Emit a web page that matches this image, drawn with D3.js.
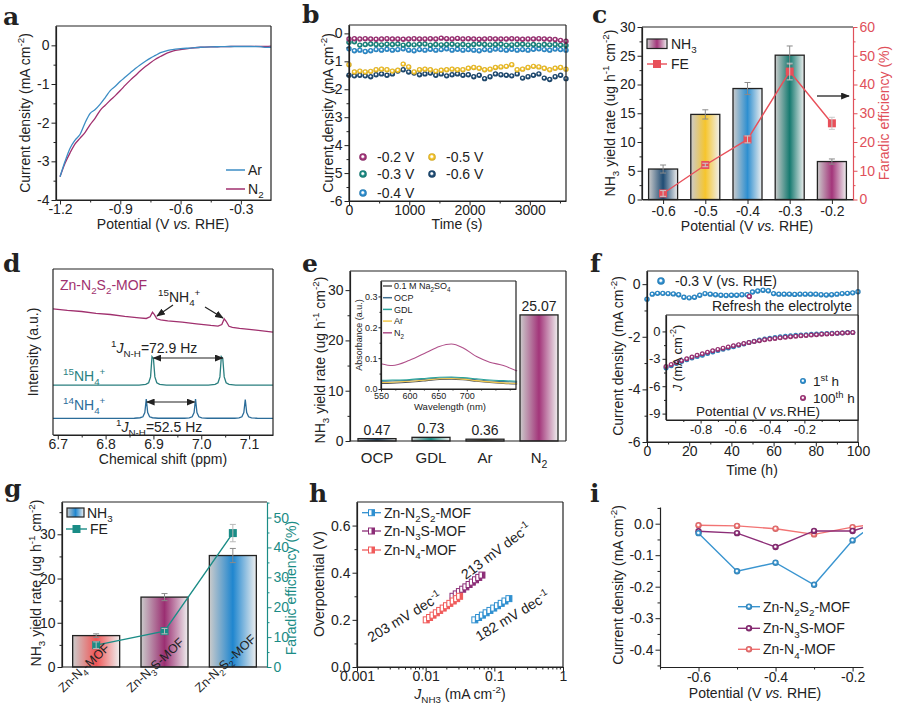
<!DOCTYPE html>
<html>
<head>
<meta charset="utf-8">
<script src="https://cdn.jsdelivr.net/npm/d3@7"></script>
<style>
  body { margin: 0; background: #fff; }
  svg text { font-family: "Liberation Sans", Arial, sans-serif; }
</style>
</head>
<body>
<svg id="fig" width="900" height="710"></svg>
<script>
// ---------------- DATA ----------------

// (a) LSV in Ar / N2
const aPotential = [-1.2,-1.175,-1.15,-1.125,-1.1,-1.075,-1.05,-1.025,-1.0,-0.975,-0.95,-0.925,-0.9,-0.875,-0.85,-0.825,-0.8,-0.775,-0.75,-0.725,-0.7,-0.675,-0.65,-0.625,-0.6,-0.55,-0.5,-0.45,-0.4,-0.35,-0.3,-0.25,-0.2,-0.175,-0.15];
const aAr = [-3.4,-3.0,-2.66,-2.45,-2.3,-2.0,-1.76,-1.66,-1.52,-1.35,-1.17,-1.06,-0.93,-0.82,-0.71,-0.6,-0.5,-0.41,-0.33,-0.26,-0.19,-0.15,-0.12,-0.1,-0.085,-0.07,-0.05,-0.04,-0.035,-0.03,-0.03,-0.03,-0.035,-0.055,-0.05];
const aN2 = [-3.4,-3.05,-2.78,-2.55,-2.4,-2.25,-2.05,-1.88,-1.68,-1.55,-1.42,-1.3,-1.17,-1.03,-0.9,-0.78,-0.66,-0.55,-0.45,-0.36,-0.29,-0.22,-0.17,-0.13,-0.11,-0.07,-0.05,-0.04,-0.035,-0.03,-0.025,-0.025,-0.03,-0.03,-0.02];

// (b) i-t curves
const bTime = [0,90,180,270,360,450,540,630,720,810,900,990,1080,1170,1260,1350,1440,1530,1620,1710,1800,1890,1980,2070,2160,2250,2340,2430,2520,2610,2700,2790,2880,2970,3060,3150,3240,3330,3420,3510,3600];
const b02 = [-0.2,-0.19,-0.2,-0.19,-0.2,-0.21,-0.2,-0.19,-0.2,-0.2,-0.21,-0.2,-0.19,-0.2,-0.2,-0.19,-0.2,-0.17,-0.19,-0.2,-0.18,-0.2,-0.19,-0.2,-0.21,-0.2,-0.19,-0.2,-0.2,-0.2,-0.19,-0.2,-0.21,-0.2,-0.2,-0.19,-0.2,-0.21,-0.22,-0.25,-0.28];
const b03 = [-0.32,-0.3,-0.42,-0.4,-0.38,-0.4,-0.41,-0.39,-0.4,-0.38,-0.42,-0.4,-0.41,-0.39,-0.38,-0.42,-0.4,-0.41,-0.4,-0.39,-0.41,-0.4,-0.42,-0.4,-0.38,-0.4,-0.41,-0.4,-0.39,-0.42,-0.41,-0.4,-0.39,-0.41,-0.4,-0.42,-0.4,-0.41,-0.4,-0.42,-0.43];
const b04 = [-0.55,-0.62,-0.6,-0.65,-0.62,-0.58,-0.6,-0.57,-0.6,-0.58,-0.55,-0.6,-0.62,-0.58,-0.6,-0.57,-0.6,-0.58,-0.55,-0.6,-0.57,-0.6,-0.58,-0.6,-0.62,-0.58,-0.6,-0.56,-0.58,-0.6,-0.57,-0.6,-0.58,-0.6,-0.57,-0.55,-0.58,-0.6,-0.56,-0.58,-0.6];
const b05 = [-1.12,-1.38,-1.35,-1.38,-1.36,-1.3,-1.28,-1.3,-1.35,-1.32,-1.1,-1.2,-1.38,-1.3,-1.28,-1.3,-1.35,-1.32,-1.3,-1.28,-1.3,-1.3,-1.25,-1.22,-1.25,-1.3,-1.28,-1.22,-1.2,-1.18,-1.12,-1.3,-1.28,-1.22,-1.18,-1.2,-1.25,-1.3,-1.25,-1.22,-1.28];
const b06 = [-1.5,-1.52,-1.5,-1.52,-1.55,-1.48,-1.45,-1.5,-1.45,-1.35,-1.3,-1.38,-1.42,-1.48,-1.45,-1.42,-1.5,-1.45,-1.52,-1.48,-1.45,-1.5,-1.48,-1.55,-1.5,-1.62,-1.55,-1.45,-1.48,-1.5,-1.52,-1.45,-1.6,-1.55,-1.5,-1.45,-1.6,-1.65,-1.55,-1.5,-1.62];
const bLabels = ['-0.2 V','-0.3 V','-0.4 V','-0.5 V','-0.6 V'];

// (c) yield and FE vs potential
const cPotential = ['-0.6','-0.5','-0.4','-0.3','-0.2'];
const cYield = [5.3,14.8,19.3,25.1,6.6];
const cYieldErr = [0.7,0.8,1.05,1.6,0.45];
const cFE = [2.1,12.0,20.9,44.5,26.5];
const cFEErr = [1.0,0.6,1.2,2.9,2.1];

// (d) 1H NMR
const dMofShift = [6.69,6.72,6.75,6.78,6.81,6.84,6.87,6.885,6.893,6.898,6.902,6.907,6.915,6.93,6.96,6.99,7.02,7.035,7.043,7.048,7.052,7.058,7.065,7.08,7.11,7.15];
const dMofInt = [7.6,7.51,7.44,7.33,7.26,7.15,7.06,7.02,7.12,7.4,7.25,7.0,6.93,6.88,6.8,6.7,6.6,6.56,6.65,7.0,6.85,6.55,6.48,6.42,6.33,6.2];
const d15Shift = [6.69,6.87,6.884,6.89,6.894,6.897,6.9,6.903,6.907,6.913,6.927,7.015,7.029,7.035,7.039,7.042,7.045,7.048,7.052,7.058,7.072,7.15];
const d15Int = [3.0,3.01,3.05,3.15,3.5,4.72,4.6,3.5,3.15,3.05,3.01,3.01,3.05,3.15,3.5,4.72,4.6,3.5,3.15,3.05,3.01,3.0];
const d14Shift = [6.69,6.86,6.872,6.878,6.882,6.885,6.888,6.892,6.898,6.91,6.965,6.975,6.981,6.985,6.988,6.991,6.995,7.001,7.013,7.07,7.079,7.085,7.089,7.092,7.095,7.099,7.105,7.117,7.15];
const d14Int = [1.0,1.01,1.04,1.1,1.35,2.17,1.35,1.1,1.04,1.01,1.01,1.03,1.1,1.35,2.17,1.35,1.1,1.03,1.01,1.01,1.03,1.1,1.35,2.14,1.35,1.1,1.03,1.01,1.0];

// (e) control experiments + UV-vis inset
const eCats = ['OCP','GDL','Ar','N_{2}'];
const eYield = [0.47,0.73,0.36,25.07];
const eWave = [550,570,600,630,652,673,693,717,740,764,788];
const eNa2SO4 = [0.018,0.019,0.022,0.027,0.031,0.032,0.03,0.025,0.021,0.018,0.016];
const eOCP = [0.025,0.026,0.028,0.032,0.035,0.036,0.034,0.03,0.026,0.024,0.022];
const eGDL = [0.028,0.029,0.031,0.035,0.038,0.039,0.037,0.033,0.029,0.027,0.025];
const eAr = [0.021,0.022,0.025,0.029,0.033,0.034,0.032,0.027,0.023,0.02,0.018];
const eN2 = [0.082,0.076,0.093,0.119,0.138,0.146,0.134,0.105,0.087,0.076,0.058];
const eInsetLabels = ['0.1 M Na_{2}SO_{4}','OCP','GDL','Ar','N_{2}'];

// (f) 100 h stability + LSV inset
const fTime = [0,2.5,5,7.5,10,12.5,15,17.5,20,22.5,25,27.5,30,32.5,35,37.5,40,42.5,45,47.5,50,52.5,55,57.5,60,62.5,65,67.5,70,72.5,75,77.5,80,82.5,85,87.5,90,92.5,95,97.5,100];
const fJ = [-0.57,-0.38,-0.35,-0.35,-0.36,-0.37,-0.4,-0.5,-0.52,-0.5,-0.42,-0.36,-0.38,-0.4,-0.42,-0.43,-0.42,-0.42,-0.4,-0.4,-0.3,-0.26,-0.23,-0.25,-0.36,-0.38,-0.38,-0.38,-0.39,-0.38,-0.38,-0.38,-0.38,-0.4,-0.41,-0.4,-0.38,-0.36,-0.35,-0.33,-0.29];
const fRefreshTime = [48.5];
const fRefreshJ = [-0.47];
const fInsetV = [-1.0,-0.97,-0.94,-0.91,-0.88,-0.85,-0.82,-0.79,-0.76,-0.73,-0.7,-0.67,-0.64,-0.61,-0.58,-0.55,-0.52,-0.49,-0.46,-0.43,-0.4,-0.37,-0.34,-0.31,-0.28,-0.25,-0.22,-0.19,-0.16,-0.13,-0.1,-0.07,-0.04,-0.01,0.02,0.05,0.08];
const fInset1st = [-4.0,-3.75,-3.5,-3.28,-3.1,-2.92,-2.75,-2.6,-2.42,-2.26,-2.1,-1.96,-1.82,-1.68,-1.52,-1.38,-1.22,-1.08,-0.95,-0.84,-0.74,-0.66,-0.58,-0.52,-0.47,-0.42,-0.38,-0.35,-0.32,-0.29,-0.26,-0.23,-0.21,-0.19,-0.16,-0.13,-0.11];
const fInset100th = [-3.85,-3.62,-3.4,-3.2,-3.0,-2.8,-2.62,-2.45,-2.28,-2.12,-1.97,-1.83,-1.7,-1.57,-1.45,-1.33,-1.22,-1.11,-1.01,-0.92,-0.84,-0.77,-0.7,-0.64,-0.58,-0.53,-0.48,-0.44,-0.4,-0.36,-0.3,-0.27,-0.24,-0.21,-0.18,-0.15,-0.12];

// (g) catalyst comparison
const gCats = ['Zn-N_{4}-MOF','Zn-N_{3}S-MOF','Zn-N_{2}S_{2}-MOF'];
const gYield = [7.1,15.8,25.2];
const gYieldErr = [0.4,0.8,1.6];
const gFE = [7.3,12.0,44.8];
const gFEErr = [1.1,0.9,2.9];

// (h) Tafel plots
const hN2S2J = [0.052,0.059,0.067,0.076,0.0863,0.098,0.111,0.126,0.143,0.163];
const hN2S2Eta = [0.2,0.21,0.22,0.23,0.24,0.25,0.26,0.27,0.28,0.29];
const hN3SJ = [0.025,0.0279,0.031,0.0346,0.0385,0.0429,0.0478,0.0532,0.0593,0.066];
const hN3SEta = [0.3,0.31,0.32,0.33,0.34,0.35,0.36,0.37,0.38,0.39];
const hN4J = [0.0102,0.0114,0.0128,0.0143,0.016,0.018,0.0201,0.0225,0.0252,0.0283,0.0312];
const hN4Eta = [0.2,0.21,0.22,0.23,0.24,0.25,0.26,0.27,0.28,0.29,0.3];
const hSlopes = ['182 mV dec^{-1}','213 mV dec^{-1}','203 mV dec^{-1}'];

// (i) partial current density
const iPotential = [-0.6,-0.5,-0.4,-0.3,-0.2,-0.15];
const iN2S2 = [-0.03,-0.151,-0.124,-0.194,-0.053,-0.008];
const iN3S = [-0.024,-0.03,-0.074,-0.023,-0.023,-0.004];
const iN4 = [-0.005,-0.007,-0.016,-0.034,-0.011,-0.003];
const mofNames = ['Zn-N_{2}S_{2}-MOF','Zn-N_{3}S-MOF','Zn-N_{4}-MOF'];

// ---------------- STYLE ----------------
const INK = '#222';
const FONT = '"Liberation Sans", Arial, sans-serif';
const MAG = '#a3357a', TEAL = '#1b8a82', BLUE = '#2e8fd0', YEL = '#f6c52c', NAVY = '#1f4c74';
const RED = '#e8505a', PINK = '#f27373', PURP = '#8c2d77';

const svg = d3.select('#fig');
const defs = svg.append('defs');

// arrow head
defs.append('marker').attr('id', 'arr').attr('viewBox', '0 0 10 8').attr('refX', 9).attr('refY', 4)
  .attr('markerWidth', 9).attr('markerHeight', 7).attr('markerUnits', 'userSpaceOnUse')
  .attr('orient', 'auto-start-reverse')
  .append('path').attr('d', 'M0,0 L10,4 L0,8 z').attr('fill', INK);

function barGrad(id, color) {
  const gr = defs.append('linearGradient').attr('id', id).attr('x1', 0).attr('x2', 1).attr('y1', 0).attr('y2', 0);
  gr.append('stop').attr('offset', '0%').attr('stop-color', '#cbcbcb');
  gr.append('stop').attr('offset', '50%').attr('stop-color', color);
  gr.append('stop').attr('offset', '100%').attr('stop-color', '#efefef');
  return `url(#${id})`;
}
function ballGrad(id, color) {
  const gr = defs.append('radialGradient').attr('id', id).attr('cx', 0.5).attr('cy', 0.5).attr('r', 0.5)
    .attr('fx', 0.45).attr('fy', 0.42);
  gr.append('stop').attr('offset', '0%').attr('stop-color', '#fff');
  gr.append('stop').attr('offset', '22%').attr('stop-color', '#fff');
  gr.append('stop').attr('offset', '55%').attr('stop-color', color);
  gr.append('stop').attr('offset', '100%').attr('stop-color', d3.color(color).darker(0.5));
  return `url(#${id})`;
}

// text with _{sub} ^{sup} ~{italic}
function rich(t, str, fs) {
  const parts = str.split(/(_\{[^}]*\}|\^\{[^}]*\}|~\{[^}]*\})/).filter(p => p);
  let shift = 0;
  parts.forEach(p => {
    let kind = 'n', txt = p;
    if (p.startsWith('_{')) { kind = 'sub'; txt = p.slice(2, -1); }
    else if (p.startsWith('^{')) { kind = 'sup'; txt = p.slice(2, -1); }
    else if (p.startsWith('~{')) { kind = 'it'; txt = p.slice(2, -1); }
    const target = kind === 'sub' ? fs * 0.3 : kind === 'sup' ? -fs * 0.4 : 0;
    const ts = t.append('tspan').text(txt).attr('dy', target - shift);
    shift = target;
    if (kind === 'sub' || kind === 'sup') ts.attr('font-size', fs * 0.7);
    if (kind === 'it') ts.attr('font-style', 'italic');
  });
}
function label(g, x, y, str, o = {}) {
  const fs = o.fs || 14;
  const t = g.append('text').attr('x', x).attr('y', y).attr('font-size', fs)
    .attr('text-anchor', o.anchor || 'start').style('fill', o.color || INK);
  if (o.rotate != null) t.attr('transform', `rotate(${o.rotate},${x},${y})`);
  if (o.family) t.style('font-family', o.family);
  if (o.weight) t.attr('font-weight', o.weight);
  rich(t, str, fs);
  return t;
}
// rotated y title centred on cx, cy
function yTitle(g, cx, cy, str, o = {}) {
  const fs = o.fs || 14;
  return label(g, cx + 0.36 * fs, cy, str, Object.assign({ anchor: 'middle', rotate: -90 }, o));
}
function xTitle(g, cx, cy, str, o = {}) {
  const fs = o.fs || 14;
  return label(g, cx, cy + 0.36 * fs, str, Object.assign({ anchor: 'middle' }, o));
}

function axis(g, side, scale, pos, o) {
  const maker = { bottom: d3.axisBottom, left: d3.axisLeft, right: d3.axisRight }[side];
  const tr = side === 'bottom' ? `translate(0,${pos})` : `translate(${pos},0)`;
  const col = o.color || INK;
  if (o.minor) {
    const m = g.append('g').attr('transform', tr)
      .call(maker(scale).tickValues(o.minor).tickSize(o.minorSize || 2.5).tickFormat(''));
    m.select('.domain').remove();
    m.selectAll('line').attr('stroke', col);
  }
  const a = g.append('g').attr('transform', tr)
    .call(maker(scale).tickValues(o.ticks || []).tickSizeInner(o.size || 4.5).tickSizeOuter(0)
      .tickPadding(o.pad != null ? o.pad : 2).tickFormat(o.fmt || (d => d)));
  a.select('.domain').attr('stroke', col).attr('stroke-width', 1.2);
  a.selectAll('.tick line').attr('stroke', col);
  a.selectAll('text').attr('font-size', o.fs || 14).style('font-family', FONT).style('fill', col);
  return a;
}
const fmt = n => d => d.toFixed(n);

function frame(g, B, sides) {
  const s = sides || 'tlrb';
  const seg = (x1, y1, x2, y2) => g.append('line').attr('x1', x1).attr('y1', y1).attr('x2', x2).attr('y2', y2)
    .attr('stroke', INK).attr('stroke-width', 1.2);
  if (s.includes('t')) seg(B.l, B.t, B.r, B.t);
  if (s.includes('b')) seg(B.l, B.b, B.r, B.b);
  if (s.includes('l')) seg(B.l, B.t, B.l, B.b);
  if (s.includes('r')) seg(B.r, B.t, B.r, B.b);
}
function clipFor(id, B) {
  defs.append('clipPath').attr('id', id).append('rect')
    .attr('x', B.l).attr('y', B.t).attr('width', B.r - B.l).attr('height', B.b - B.t);
  return `url(#${id})`;
}
function panelLetter(x, y, ch) {
  svg.append('text').attr('x', x).attr('y', y).attr('font-size', 25).attr('font-weight', 'bold')
    .style('font-family', '"DejaVu Serif", "Liberation Serif", serif').style('fill', INK).text(ch);
}
function balls(g, xs, ys, xScale, yScale, fill, r) {
  g.append('g').selectAll('circle').data(xs).join('circle')
    .attr('cx', d => xScale(d)).attr('cy', (d, i) => yScale(ys[i])).attr('r', r)
    .attr('fill', fill);
}

// ---------------- (a) ----------------
{
  const B = { l: 56, t: 26, r: 271, b: 200 };
  const x = d3.scaleLinear().domain([-1.22, -0.15]).range([B.l, B.r]);
  const y = d3.scaleLinear().domain([-4, 0.5]).range([B.b, B.t]);
  const g = svg.append('g');
  const ln = d3.line().x((d, i) => x(aPotential[i])).y(d => y(d)).curve(d3.curveMonotoneX);
  g.append('path').attr('d', ln(aN2)).attr('fill', 'none').attr('stroke', '#a02f6e').attr('stroke-width', 1.3);
  g.append('path').attr('d', ln(aAr)).attr('fill', 'none').attr('stroke', '#3c8dc4').attr('stroke-width', 1.3);
  axis(g, 'bottom', x, B.b, { ticks: [-1.2, -0.9, -0.6, -0.3], minor: [-1.05, -0.75, -0.45], fmt: fmt(1), pad: 0 });
  axis(g, 'left', y, B.l, { ticks: [-4, -3, -2, -1, 0], minor: [-3.5, -2.5, -1.5, -0.5], fmt: fmt(0) });
  frame(g, B);
  [['Ar', '#3c8dc4', 170], ['N_{2}', '#a02f6e', 189]].forEach(([t, c, yy]) => {
    g.append('line').attr('x1', 226).attr('x2', 245).attr('y1', yy).attr('y2', yy).attr('stroke', c).attr('stroke-width', 1.5);
    label(g, 248, yy + 5, t);
  });
  yTitle(g, 25, 113, 'Current density (mA cm^{-2})');
  xTitle(g, 163, 224, 'Potential (V ~{vs.} RHE)');
  panelLetter(3, 25, 'a');
}

// ---------------- (b) ----------------
{
  const B = { l: 349, t: 25, r: 566, b: 201 };
  const x = d3.scaleLinear().domain([0, 3600]).range([B.l, B.r]);
  const y = d3.scaleLinear().domain([-6, 0.3]).range([B.b, B.t]);
  const g = svg.append('g');
  const series = [b06, b05, b04, b03, b02];
  const cols = [NAVY, YEL, BLUE, TEAL, MAG];
  const fills = cols.map((c, i) => ballGrad('bb' + i, c));
  series.forEach((s, i) => balls(g, bTime, s, x, y, fills[i], 2.7));
  axis(g, 'bottom', x, B.b, { ticks: [0, 1000, 2000, 3000], minor: [500, 1500, 2500, 3500], pad: 0 });
  axis(g, 'left', y, B.l, { ticks: [-6, -5, -4, -3, -2, -1, 0], minor: [-5.5, -4.5, -3.5, -2.5, -1.5, -0.5], fmt: fmt(0) });
  frame(g, B);
  const leg = [[363, 157, MAG, 0], [363, 174, TEAL, 1], [363, 193, BLUE, 2], [432, 157, YEL, 3], [432, 174, NAVY, 4]];
  leg.forEach(([lx, ly, c, k], i) => {
    g.append('circle').attr('cx', lx).attr('cy', ly).attr('r', 3.8).attr('fill', ballGrad('bl' + i, c));
    label(g, lx + 14, ly + 5, bLabels[k]);
  });
  yTitle(g, 328, 113, 'Current density (mA cm^{-2})');
  xTitle(g, 457, 224, 'Time (s)');
  panelLetter(302, 23, 'b');
}

// ---------------- (c) ----------------
{
  const B = { l: 642, t: 27, r: 853, b: 199.5 };
  const x = d3.scalePoint().domain(cPotential).range([B.l, B.r]).padding(0.5);
  const y = d3.scaleLinear().domain([0, 30]).range([B.b, B.t]);
  const y2 = d3.scaleLinear().domain([0, 60]).range([B.b, B.t]);
  const g = svg.append('g');
  const cols = [NAVY, YEL, BLUE, '#167a70', MAG];
  const bw = 29;
  g.append('g').selectAll('rect').data(cYield).join('rect')
    .attr('x', (d, i) => x(cPotential[i]) - bw / 2).attr('y', d => y(d))
    .attr('width', bw).attr('height', d => y(0) - y(d))
    .attr('fill', (d, i) => barGrad('gc' + i, cols[i])).attr('stroke', INK).attr('stroke-width', 1.3);
  const errs = g.append('g').attr('stroke', '#8a8a8a').attr('stroke-width', 1);
  cYield.forEach((v, i) => {
    const cx = x(cPotential[i]);
    errs.append('line').attr('x1', cx).attr('x2', cx).attr('y1', y(v - cYieldErr[i])).attr('y2', y(v + cYieldErr[i]));
    errs.append('line').attr('x1', cx - 3).attr('x2', cx + 3).attr('y1', y(v + cYieldErr[i])).attr('y2', y(v + cYieldErr[i]));
    errs.append('line').attr('x1', cx - 3).attr('x2', cx + 3).attr('y1', y(v - cYieldErr[i])).attr('y2', y(v - cYieldErr[i]));
  });
  const ln = d3.line().x((d, i) => x(cPotential[i])).y(d => y2(d));
  g.append('path').attr('d', ln(cFE)).attr('fill', 'none').attr('stroke', RED).attr('stroke-width', 1.4);
  g.append('g').selectAll('rect').data(cFE).join('rect')
    .attr('x', (d, i) => x(cPotential[i]) - 4).attr('y', d => y2(d) - 4).attr('width', 8).attr('height', 8).attr('fill', RED);
  const ferr = g.append('g').attr('stroke', '#c9c9c9').attr('stroke-width', 1);
  cFE.forEach((v, i) => {
    const cx = x(cPotential[i]);
    ferr.append('line').attr('x1', cx).attr('x2', cx).attr('y1', y2(v - cFEErr[i])).attr('y2', y2(v + cFEErr[i]));
    ferr.append('line').attr('x1', cx - 3).attr('x2', cx + 3).attr('y1', y2(v + cFEErr[i])).attr('y2', y2(v + cFEErr[i]));
    ferr.append('line').attr('x1', cx - 3).attr('x2', cx + 3).attr('y1', y2(v - cFEErr[i])).attr('y2', y2(v - cFEErr[i]));
  });
  axis(g, 'bottom', x, B.b, { ticks: cPotential, pad: 2 });
  axis(g, 'left', y, B.l, { ticks: [0, 5, 10, 15, 20, 25, 30], minor: [2.5, 7.5, 12.5, 17.5, 22.5, 27.5] });
  axis(g, 'right', y2, B.r, { ticks: [0, 10, 20, 30, 40, 50, 60], minor: [5, 15, 25, 35, 45, 55], color: '#e0505a' });
  frame(g, B, 'tlb');
  // legend
  g.append('rect').attr('x', 647).attr('y', 39).attr('width', 20).attr('height', 9.5)
    .attr('fill', barGrad('gcl', MAG)).attr('stroke', INK).attr('stroke-width', 1.2);
  label(g, 671, 49, 'NH_{3}');
  g.append('line').attr('x1', 647).attr('x2', 667).attr('y1', 64).attr('y2', 64).attr('stroke', RED).attr('stroke-width', 1.4);
  g.append('rect').attr('x', 653).attr('y', 60).attr('width', 8).attr('height', 8).attr('fill', RED);
  label(g, 671, 69, 'FE');
  g.append('line').attr('x1', 817).attr('x2', 849).attr('y1', 96).attr('y2', 96)
    .attr('stroke', INK).attr('stroke-width', 1.3).attr('marker-end', 'url(#arr)');
  yTitle(g, 610, 113, 'NH_{3} yield rate (ug h^{-1} cm^{-2})');
  yTitle(g, 884, 113, 'Faradic efficiency (%)', { color: '#e0505a' });
  xTitle(g, 747, 226, 'Potential (V ~{vs.} RHE)');
  panelLetter(592, 23, 'c');
}

// ---------------- (d) ----------------
{
  const B = { l: 53, t: 269, r: 273, b: 435 };
  const x = d3.scaleLinear().domain([6.69, 7.15]).range([B.l, B.r]);
  const y = d3.scaleLinear().domain([0, 10]).range([B.b, B.t]);
  const g = svg.append('g');
  const spec = [[dMofShift, dMofInt, '#a0306e'], [d15Shift, d15Int, '#2a7f7f'], [d14Shift, d14Int, '#2b6c99']];
  spec.forEach(([xs, ys, c]) => {
    const ln = d3.line().x((d, i) => x(xs[i])).y(d => y(d));
    g.append('path').attr('d', ln(ys)).attr('fill', 'none').attr('stroke', c).attr('stroke-width', 1.3);
  });
  axis(g, 'bottom', x, B.b, { ticks: [6.7, 6.8, 6.9, 7.0, 7.1], minor: [6.75, 6.85, 6.95, 7.05], fmt: fmt(1), pad: 0 });
  frame(g, B);
  label(g, 60, 290, 'Zn-N_{2}S_{2}-MOF', { color: '#a0306e' });
  label(g, 158, 302, '^{15}NH_{4}^{+}');
  g.append('line').attr('x1', 173).attr('y1', 305).attr('x2', 157).attr('y2', 316).attr('stroke', INK).attr('stroke-width', 1.2).attr('marker-end', 'url(#arr)');
  g.append('line').attr('x1', 205).attr('y1', 307).attr('x2', 223).attr('y2', 318).attr('stroke', INK).attr('stroke-width', 1.2).attr('marker-end', 'url(#arr)');
  label(g, 111, 353, '^{1}~{J}_{N-H}=72.9 Hz');
  g.append('line').attr('x1', x(6.9)).attr('x2', x(7.045)).attr('y1', 358).attr('y2', 358)
    .attr('stroke', INK).attr('stroke-width', 1.2).attr('marker-start', 'url(#arr)').attr('marker-end', 'url(#arr)');
  label(g, 63, 381, '^{15}NH_{4}^{+}', { color: '#2a7f7f' });
  label(g, 63, 410, '^{14}NH_{4}^{+}', { color: '#2b6c99' });
  g.append('line').attr('x1', x(6.886)).attr('x2', x(6.986)).attr('y1', 402).attr('y2', 402)
    .attr('stroke', INK).attr('stroke-width', 1.2).attr('marker-start', 'url(#arr)').attr('marker-end', 'url(#arr)');
  label(g, 116, 432, '^{1}~{J}_{N-H}=52.5 Hz');
  yTitle(g, 33, 352, 'Intensity (a.u.)');
  xTitle(g, 163, 459, 'Chemical shift (ppm)');
  panelLetter(3, 272, 'd');
}

// ---------------- (e) ----------------
{
  const B = { l: 350, t: 271, r: 566, b: 441 };
  const x = d3.scalePoint().domain(eCats).range([B.l, B.r]).padding(0.5);
  const y = d3.scaleLinear().domain([0, 33.8]).range([B.b, B.t]);
  const g = svg.append('g');
  const cols = [NAVY, TEAL, '#6b5b2e', MAG];
  const bw = 38;
  g.append('g').selectAll('rect').data(eYield).join('rect')
    .attr('x', (d, i) => x(eCats[i]) - bw / 2).attr('y', d => y(d))
    .attr('width', bw).attr('height', d => y(0) - y(d))
    .attr('fill', (d, i) => barGrad('ge' + i, cols[i])).attr('stroke', INK).attr('stroke-width', 1.3);
  g.append('g').selectAll('text').data(eYield).join('text')
    .attr('x', (d, i) => x(eCats[i])).attr('y', d => y(d) - 4).attr('text-anchor', 'middle')
    .attr('font-size', 14).style('fill', INK).text(d => d.toFixed(2));
  axis(g, 'left', y, B.l, { ticks: [0, 10, 20, 30], minor: [5, 15, 25], fmt: fmt(0) });
  frame(g, B);
  eCats.forEach(c => label(g, x(c), 463, c, { anchor: 'middle', fs: 15 }));
  yTitle(g, 320, 360, 'NH_{3} yield rate (ug h^{-1} cm^{-2})');

  // inset
  const I = { l: 381, t: 281, r: 516, b: 389 };
  const ix = d3.scaleLinear().domain([550, 786]).range([I.l, I.r]);
  const iy = d3.scaleLinear().domain([0, 0.35]).range([I.b, I.t]);
  g.append('rect').attr('x', I.l).attr('y', I.t).attr('width', I.r - I.l).attr('height', I.b - I.t).attr('fill', '#fff');
  const spec = [[eNa2SO4, '#555'], [eOCP, '#3f6f90'], [eGDL, '#2aa39a'], [eAr, '#f2c94c'], [eN2, '#b0508a']];
  const ln = d3.line().x((d, i) => ix(eWave[i])).y(d => iy(d)).curve(d3.curveMonotoneX);
  spec.forEach(([s, c]) => g.append('path').attr('d', ln(s)).attr('fill', 'none').attr('stroke', c).attr('stroke-width', 1.1));
  axis(g, 'bottom', ix, I.b, { ticks: [550, 600, 650, 700], minor: [575, 625, 675, 725, 750, 775], fs: 9, size: 2.5, minorSize: 1.5, pad: 1 });
  axis(g, 'left', iy, I.l, { ticks: [0, 0.1, 0.2, 0.3], minor: [0.05, 0.15, 0.25], fmt: fmt(1), fs: 9, size: 2.5, minorSize: 1.5, pad: 1 });
  frame(g, I);
  spec.forEach(([s, c], i) => {
    const ly = 286 + i * 11.7;
    g.append('line').attr('x1', 383).attr('x2', 392).attr('y1', ly).attr('y2', ly).attr('stroke', c).attr('stroke-width', 1.5);
    label(g, 394, ly + 3.2, eInsetLabels[i], { fs: 9 });
  });
  yTitle(g, 359, 335, 'Absorbance (a.u.)', { fs: 9 });
  xTitle(g, 450, 407, 'Wavelength (nm)', { fs: 9.5 });
  panelLetter(302, 272, 'e');
}

// ---------------- (f) ----------------
{
  const B = { l: 647, t: 271, r: 858, b: 442 };
  const x = d3.scaleLinear().domain([0, 100]).range([B.l, B.r]);
  const y = d3.scaleLinear().domain([-6, 0.5]).range([B.b, B.t]);
  const g = svg.append('g');
  balls(g, fTime, fJ, x, y, ballGrad('fb', BLUE), 2.7);
  balls(g, fRefreshTime, fRefreshJ, x, y, ballGrad('fm', MAG), 2.7);
  axis(g, 'bottom', x, B.b, { ticks: [0, 20, 40, 60, 80, 100], minor: [10, 30, 50, 70, 90], pad: 0 });
  axis(g, 'left', y, B.l, { ticks: [-6, -4, -2, 0], minor: [-5, -3, -1], fmt: fmt(0) });
  frame(g, B);
  g.append('circle').attr('cx', 661).attr('cy', 281).attr('r', 3.8).attr('fill', ballGrad('fl', BLUE));
  label(g, 675, 286, '-0.3 V (vs. RHE)');
  label(g, 852, 311, 'Refresh the electrolyte', { anchor: 'end' });

  const I = { l: 666, t: 315, r: 858, b: 420 };
  const ix = d3.scaleLinear().domain([-1.0, 0.11]).range([I.l, I.r]);
  const iy = d3.scaleLinear().domain([-9.7, 1.8]).range([I.b, I.t]);
  g.append('rect').attr('x', I.l).attr('y', I.t).attr('width', I.r - I.l).attr('height', I.b - I.t).attr('fill', '#fff');
  balls(g, fInsetV, fInset1st, ix, iy, ballGrad('fib', BLUE), 2.5);
  balls(g, fInsetV, fInset100th, ix, iy, ballGrad('fim', MAG), 2.5);
  axis(g, 'bottom', ix, I.b, { ticks: [-0.8, -0.6, -0.4, -0.2], minor: [-0.9, -0.7, -0.5, -0.3, -0.1, 0], fmt: fmt(1), fs: 13, size: 3.5, minorSize: 2, pad: 1 });
  axis(g, 'left', iy, I.l, { ticks: [-9, -6, -3, 0], minor: [-7.5, -4.5, -1.5], fmt: fmt(0), fs: 13, size: 3.5, minorSize: 2, pad: 2 });
  frame(g, I);
  [[381, BLUE, '1^{st} h'], [398, MAG, '100^{th} h']].forEach(([ly, c, t], i) => {
    g.append('circle').attr('cx', 803).attr('cy', ly).attr('r', 3).attr('fill', ballGrad('fil' + i, c));
    label(g, 813, ly + 5, t, { fs: 13.5 });
  });
  xTitle(g, 758, 411, 'Potential (V ~{vs.}RHE)', { fs: 13.5 });
  yTitle(g, 677, 358, '~{J} (mA cm^{-2})', { fs: 13 });
  yTitle(g, 618, 356, 'Current density (mA cm^{-2})');
  xTitle(g, 752, 470, 'Time (h)');
  panelLetter(590, 272, 'f');
}

// ---------------- (g) ----------------
{
  const B = { l: 62, t: 502, r: 267, b: 667 };
  const x = d3.scalePoint().domain(gCats).range([B.l, B.r]).padding(0.5);
  const y = d3.scaleLinear().domain([0, 37.3]).range([B.b, B.t]);
  const y2 = d3.scaleLinear().domain([0, 55.2]).range([B.b, B.t]);
  const g = svg.append('g');
  const cols = ['#f05454', '#9b2f72', '#1f86cf'];
  const bw = 47;
  g.append('g').selectAll('rect').data(gYield).join('rect')
    .attr('x', (d, i) => x(gCats[i]) - bw / 2).attr('y', d => y(d))
    .attr('width', bw).attr('height', d => y(0) - y(d))
    .attr('fill', (d, i) => barGrad('gg' + i, cols[i])).attr('stroke', INK).attr('stroke-width', 1.3);
  const errs = g.append('g').attr('stroke', '#8a8a8a').attr('stroke-width', 1);
  gYield.forEach((v, i) => {
    const cx = x(gCats[i]);
    const a = y(v - gYieldErr[i]), b = y(v + gYieldErr[i]);
    errs.append('line').attr('x1', cx).attr('x2', cx).attr('y1', a).attr('y2', b);
    errs.append('line').attr('x1', cx - 3).attr('x2', cx + 3).attr('y1', a).attr('y2', a);
    errs.append('line').attr('x1', cx - 3).attr('x2', cx + 3).attr('y1', b).attr('y2', b);
  });
  const ln = d3.line().x((d, i) => x(gCats[i])).y(d => y2(d));
  g.append('path').attr('d', ln(gFE)).attr('fill', 'none').attr('stroke', '#1a8c86').attr('stroke-width', 1.4);
  g.append('g').selectAll('rect').data(gFE).join('rect')
    .attr('x', (d, i) => x(gCats[i]) - 4).attr('y', d => y2(d) - 4).attr('width', 8).attr('height', 8).attr('fill', '#1a8c86');
  const ferr = g.append('g').attr('stroke', '#b9b9b9').attr('stroke-width', 1);
  gFE.forEach((v, i) => {
    const cx = x(gCats[i]);
    const a = y2(v - gFEErr[i]), b = y2(v + gFEErr[i]);
    ferr.append('line').attr('x1', cx).attr('x2', cx).attr('y1', a).attr('y2', b);
    ferr.append('line').attr('x1', cx - 3).attr('x2', cx + 3).attr('y1', a).attr('y2', a);
    ferr.append('line').attr('x1', cx - 3).attr('x2', cx + 3).attr('y1', b).attr('y2', b);
  });
  axis(g, 'left', y, B.l, { ticks: [0, 10, 20, 30], minor: [5, 15, 25, 35] });
  axis(g, 'right', y2, B.r, { ticks: [0, 10, 20, 30, 40, 50], minor: [5, 15, 25, 35, 45, 55], color: '#1a8c86' });
  frame(g, B, 'tlb');
  gCats.forEach(c => label(g, x(c) - 33, 693, c, { anchor: 'start', rotate: -43, fs: 12.5 }));
  g.append('rect').attr('x', 67).attr('y', 508).attr('width', 17).attr('height', 9)
    .attr('fill', barGrad('ggl', '#1f86cf')).attr('stroke', INK).attr('stroke-width', 1.2);
  label(g, 87, 518, 'NH_{3}');
  g.append('line').attr('x1', 66).attr('x2', 87).attr('y1', 529).attr('y2', 529).attr('stroke', '#1a8c86').attr('stroke-width', 1.4);
  g.append('rect').attr('x', 72.5).attr('y', 525).attr('width', 8).attr('height', 8).attr('fill', '#1a8c86');
  label(g, 90, 534, 'FE');
  yTitle(g, 36, 583, 'NH_{3} yield rate (ug h^{-1} cm^{-2})');
  yTitle(g, 291, 588, 'Faradic efficiency (%)', { color: '#1a8c86' });
  panelLetter(4, 497, 'g');
}

// ---------------- (h) ----------------
{
  const B = { l: 357, t: 502, r: 563, b: 667 };
  const x = d3.scaleLog().domain([0.001, 1]).range([B.l, B.r]);
  const y = d3.scaleLinear().domain([0, 0.7]).range([B.b, B.t]);
  const g = svg.append('g');
  const sets = [[hN2S2J, hN2S2Eta, '#2e8fd0'], [hN3SJ, hN3SEta, PURP], [hN4J, hN4Eta, '#f05a5a']];
  function halfSq(sel, px, py, c, s) {
    sel.append('rect').attr('x', px - s / 2).attr('y', py - s / 2).attr('width', s).attr('height', s)
      .attr('fill', '#fff').attr('stroke', c).attr('stroke-width', 1);
    sel.append('rect').attr('x', px).attr('y', py - s / 2).attr('width', s / 2).attr('height', s).attr('fill', c);
  }
  sets.forEach(([js, es, c]) => {
    const ln = d3.line().x((d, i) => x(js[i])).y(d => y(d));
    g.append('path').attr('d', ln(es)).attr('fill', 'none').attr('stroke', c).attr('stroke-width', 1.2);
    const mg = g.append('g');
    js.forEach((j, i) => halfSq(mg, x(j), y(es[i]), c, 6));
  });
  const minor = [];
  [0.001, 0.01, 0.1].forEach(dec => [2, 3, 4, 5, 6, 7, 8, 9].forEach(k => minor.push(dec * k)));
  axis(g, 'bottom', x, B.b, { ticks: [0.001, 0.01, 0.1, 1], minor: minor, fmt: d => String(d), pad: 0 });
  axis(g, 'left', y, B.l, { ticks: [0, 0.2, 0.4, 0.6], minor: [0.1, 0.3, 0.5], fmt: fmt(1) });
  frame(g, B);
  [[512.7, 0], [531, 1], [550, 2]].forEach(([ly, k]) => {
    const c = sets[k][2];
    g.append('line').attr('x1', 362).attr('x2', 381).attr('y1', ly).attr('y2', ly).attr('stroke', c).attr('stroke-width', 1.3);
    halfSq(g, 371.5, ly, c, 6);
    label(g, 384, ly + 5, mofNames[k]);
  });
  label(g, 515, 620, hSlopes[0], { anchor: 'middle', rotate: -31 });
  label(g, 499, 555, hSlopes[1], { anchor: 'middle', rotate: -37 });
  label(g, 407, 621, hSlopes[2], { anchor: 'middle', rotate: -31 });
  yTitle(g, 319, 584, 'Overpotential (V)');
  xTitle(g, 460, 694, '~{J}_{NH3} (mA cm^{-2})');
  panelLetter(309, 502, 'h');
}

// ---------------- (i) ----------------
{
  const B = { l: 660, t: 507, r: 863, b: 667 };
  const x = d3.scaleLinear().domain([-0.7, -0.173]).range([B.l, B.r]);
  const y = d3.scaleLinear().domain([-0.455, 0.053]).range([B.b, B.t]);
  const g = svg.append('g');
  const clip = clipFor('clipI', B);
  const sets = [[iN2S2, '#3a95d0'], [iN3S, PURP], [iN4, PINK]];
  const inner = g.append('g').attr('clip-path', clip);
  sets.slice().reverse().forEach(([vals, c], k) => {
    const ln = d3.line().x((d, i) => x(iPotential[i])).y(d => y(d));
    inner.append('path').attr('d', ln(vals)).attr('fill', 'none').attr('stroke', c).attr('stroke-width', 1.4);
    balls(inner, iPotential, vals, x, y, ballGrad('ib' + k, c), 3.2);
  });
  axis(g, 'bottom', x, B.b, { ticks: [-0.6, -0.4, -0.2], minor: [-0.7, -0.5, -0.3], fmt: fmt(1), pad: 1 });
  axis(g, 'left', y, B.l, { ticks: [-0.4, -0.3, -0.2, -0.1, 0], minor: [-0.45, -0.35, -0.25, -0.15, -0.05, 0.05], fmt: fmt(1) });
  [[606.7, 0], [628.3, 1], [649.3, 2]].forEach(([ly, k]) => {
    const c = sets[k][1];
    g.append('line').attr('x1', 738).attr('x2', 760).attr('y1', ly).attr('y2', ly).attr('stroke', c).attr('stroke-width', 1.4);
    g.append('circle').attr('cx', 749).attr('cy', ly).attr('r', 3.2).attr('fill', ballGrad('il' + k, c));
    label(g, 763, ly + 5, mofNames[k]);
  });
  yTitle(g, 618, 585, 'Current density (mA cm^{-2})');
  xTitle(g, 755, 693, 'Potential (V ~{vs.} RHE)');
  panelLetter(590, 502, 'i');
}
</script>
</body>
</html>
